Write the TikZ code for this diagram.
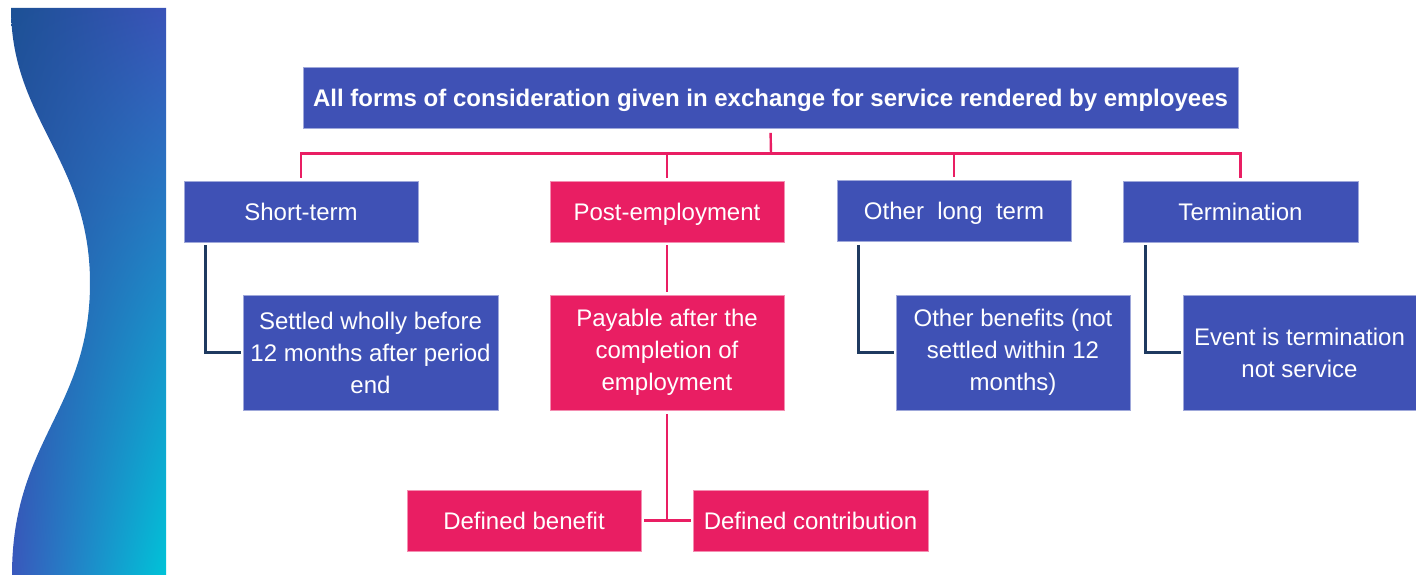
\documentclass[tikz,border=0pt]{standalone}
\usepackage{fontspec}
\setmainfont{Liberation Sans}
\usetikzlibrary{shadings}
\definecolor{boxblue}{HTML}{3F51B5}
\definecolor{boxpink}{HTML}{E91E63}
\definecolor{navy}{HTML}{1F3A60}
\definecolor{waveA}{HTML}{1C5195}
\definecolor{waveB}{HTML}{3A53B8}
\definecolor{waveC}{HTML}{3A57BC}
\definecolor{waveD}{HTML}{00C3D8}

\tikzset{
  card/.style={rectangle, inner sep=0pt, text=white, align=center,
    font=\fontsize{24}{32}\selectfont, line width=0.6pt},
  oneline/.style={text height=17pt, text depth=0pt},
  bluecard/.style={card, fill=boxblue, draw=boxblue!50!white},
  pinkcard/.style={card, fill=boxpink, draw=boxpink!50!white},
  redline/.style={boxpink, line width=2.4pt},
  navyline/.style={navy, line width=2.6pt},
}

\begin{document}
\begin{tikzpicture}[x=1pt,y=-1pt]
\useasboundingbox (0,0) rectangle (1416,575);

% wave strip on the left
\shade [upper left=waveA, upper right=waveB, lower left=waveC, lower right=waveD]
  (166,8) -- (11,8) .. controls (11,120) and (90,160) .. (90,283)
  .. controls (90,410) and (12,440) .. (12,575) -- (166,575) -- cycle;

% top box
\node [bluecard, oneline, minimum width=935pt, minimum height=61pt, font=\fontsize{24}{30}\selectfont\bfseries]
  (top) at (770.5,98) {All forms of consideration given in exchange for service rendered by employees};

% four kinds of benefit
\node [bluecard, oneline, minimum width=234pt, minimum height=61pt] (short) at (301,211.5) {Short-term};
\node [pinkcard, oneline, minimum width=234pt, minimum height=61pt] (post) at (667,211.5) {Post-employment};
\node [bluecard, oneline, minimum width=234pt, minimum height=61pt] (other) at (954,211) {Other~ long~ term};
\node [bluecard, oneline, minimum width=235pt, minimum height=61pt] (term) at (1240.5,211.5) {Termination};

% descriptions
\node [bluecard, minimum width=255pt, minimum height=115pt] (settled) at (370.5,352.5)
  {Settled wholly before\\12 months after period\\end};
\node [pinkcard, minimum width=234pt, minimum height=115pt] (payable) at (667,352.5)
  {Payable after the\\completion of\\employment};
\node [bluecard, minimum width=234pt, minimum height=115pt] (otherben) at (1013,352.5)
  {Other benefits (not\\settled within 12\\months)};
\node [bluecard, minimum width=233pt, minimum height=115pt] (event) at (1299.5,352.5)
  {Event is termination\\not service};

% plan types
\node [pinkcard, oneline, minimum width=234pt, minimum height=61pt] (db) at (524,520.5) {Defined benefit};
\node [pinkcard, oneline, minimum width=235pt, minimum height=61pt] (dc) at (810.5,520.5) {Defined contribution};

% red bus under the top box
\coordinate (bus) at (771,153.5);
\draw [redline, shorten <=4pt] (top.south) -- (bus);
\draw [redline, shorten <=3pt, shorten >=3pt] (short.north) |- (bus) -| (term.north);
\draw [redline, shorten >=3pt] (bus -| post.north) -- (post.north);
\draw [redline, shorten >=3pt] (bus -| other.north) -- (other.north);

% elbows down to the descriptions
\draw [navyline, shorten <=3pt, shorten >=2pt] ([xshift=22pt]short.south west) |- (settled.west);
\draw [navyline, shorten <=3pt, shorten >=2pt] ([xshift=22pt]other.south west) |- (otherben.west);
\draw [navyline, shorten <=3pt, shorten >=2pt] ([xshift=23pt]term.south west) |- (event.west);

% post-employment branch
\draw [redline, shorten <=3pt, shorten >=3pt] (post.south) -- (payable.north);
\draw [redline, shorten <=4pt] (payable.south) -- (payable.south |- db.east);
\draw [redline, shorten <=3pt, shorten >=2pt] (db.east) -- (dc.west);
\end{tikzpicture}
\end{document}
